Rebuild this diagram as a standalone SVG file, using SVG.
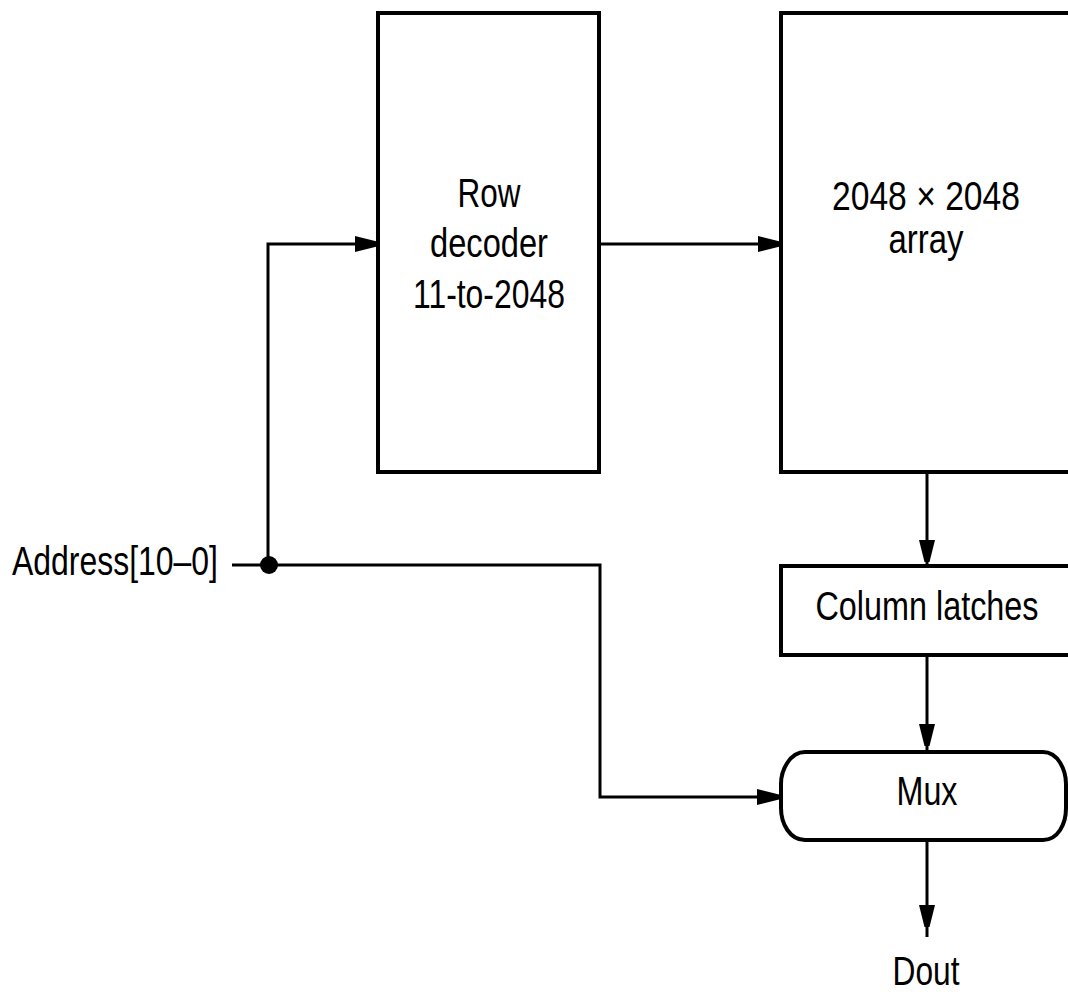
<svg xmlns="http://www.w3.org/2000/svg" xmlns:xlink="http://www.w3.org/1999/xlink" width="1068" height="992" viewBox="0 0 1068 992">
<style>
.box{fill:#fff;stroke:#000;stroke-width:4}
.wire{fill:none;stroke:#000;stroke-width:3}
.t{font-family:"Liberation Sans",Arial,sans-serif;font-size:41px;fill:#000;text-anchor:middle}
</style>
<defs>
<path id="ah" d="M0,-2.5 L0,2.5 L-22,8 L-22,-8 Z" fill="#000"/>
</defs>
<rect width="1068" height="992" fill="#fff"/>
<g id="connectors">
<path class="wire" d="M232,565 H600 V797 H780"/>
<path class="wire" d="M268,565 V244 H378"/>
<path class="wire" d="M599,244 H781"/>
<path class="wire" d="M927,472 V566"/>
<path class="wire" d="M927,655 V751"/>
<path class="wire" d="M927,841 V937"/>
<circle cx="269" cy="565" r="9" fill="#000"/>
<use xlink:href="#ah" transform="translate(377,244)"/>
<use xlink:href="#ah" transform="translate(780,244)"/>
<use xlink:href="#ah" transform="translate(779,797)"/>
<use xlink:href="#ah" transform="translate(927,562) rotate(90)"/>
<use xlink:href="#ah" transform="translate(927,746) rotate(90)"/>
<use xlink:href="#ah" transform="translate(927,927) rotate(90)"/>
</g>
<g id="row-decoder">
<rect class="box" x="378" y="13" width="221" height="459"/>
<text class="t" x="489" y="207" textLength="63" lengthAdjust="spacingAndGlyphs">Row</text>
<text class="t" x="489" y="257" textLength="118" lengthAdjust="spacingAndGlyphs">decoder</text>
<text class="t" x="489" y="308" textLength="152" lengthAdjust="spacingAndGlyphs">11-to-2048</text>
</g>
<g id="array">
<rect class="box" x="781" y="13" width="300" height="459"/>
<text class="t" x="926" y="210" textLength="188" lengthAdjust="spacingAndGlyphs">2048 × 2048</text>
<text class="t" x="926" y="253" textLength="75" lengthAdjust="spacingAndGlyphs">array</text>
</g>
<g id="column-latches">
<rect class="box" x="781" y="566" width="300" height="89"/>
<text class="t" x="927" y="620" textLength="223" lengthAdjust="spacingAndGlyphs">Column latches</text>
</g>
<g id="mux">
<path class="box" d="M805,752 H1043 C1058,752 1066,770 1066,784 V808 C1066,824 1058,840 1043,840 H805 C790,840 781,824 781,808 V784 C781,770 790,752 805,752 Z"/>
<text class="t" x="927" y="805" textLength="61" lengthAdjust="spacingAndGlyphs">Mux</text>
</g>
<g id="address-label">
<text class="t" x="115" y="575" textLength="206" lengthAdjust="spacingAndGlyphs">Address[10–0]</text>
</g>
<g id="dout-label">
<text class="t" x="926" y="985" textLength="67" lengthAdjust="spacingAndGlyphs">Dout</text>
</g>
</svg>
